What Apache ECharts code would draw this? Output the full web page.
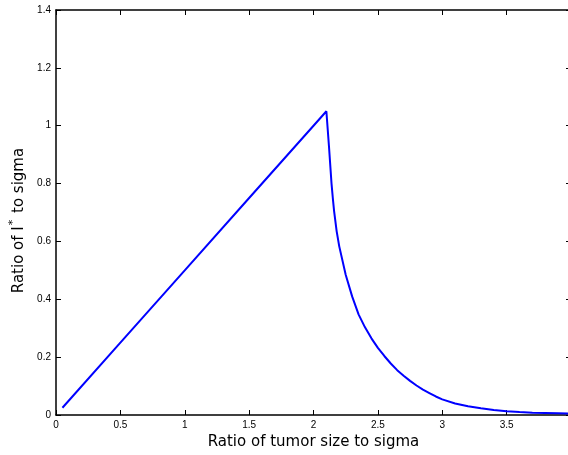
<!DOCTYPE html>
<html>
<head>
<meta charset="utf-8">
<script src="https://cdn.jsdelivr.net/npm/echarts@6/dist/echarts.min.js"></script>
<style>html,body{margin:0;padding:0;background:#fff}#c{width:568px;height:455px}</style>
</head>
<body>
<div id="c"></div>
<script>
var xValues = [0.05, 0.5, 1.0, 1.5, 2.0, 2.1, 2.12, 2.14, 2.15, 2.16, 2.18, 2.2, 2.25, 2.3, 2.35, 2.4, 2.45, 2.5, 2.55, 2.6, 2.65, 2.7, 2.75, 2.8, 2.85, 2.9, 2.95, 3.0, 3.1, 3.2, 3.3, 3.4, 3.5, 3.6, 3.7, 3.8, 3.9, 4.0];
var yValues = [0.025, 0.25, 0.5, 0.75, 1.0, 1.05, 0.93, 0.80, 0.75, 0.705, 0.635, 0.583, 0.485, 0.41, 0.348, 0.303, 0.265, 0.232, 0.204, 0.178, 0.155, 0.136, 0.118, 0.102, 0.088, 0.076, 0.064, 0.054, 0.040, 0.030, 0.023, 0.017, 0.013, 0.010, 0.008, 0.007, 0.006, 0.005];
var xTicks = [0, 0.5, 1, 1.5, 2, 2.5, 3, 3.5, 4];
var yTicks = [0, 0.2, 0.4, 0.6, 0.8, 1, 1.2, 1.4];
var xTitle = 'Ratio of tumor size to sigma';
var yTitle = 'Ratio of I{sup|*} to sigma';

var points = xValues.map(function (x, i) { return [x, yValues[i]]; });
var font = 'Liberation Sans, Arial, Helvetica, sans-serif';
var titleFont = 'DejaVu Sans, sans-serif';
function fmt(v) { return String(Math.round(v * 100) / 100); }

var chart = echarts.init(document.getElementById('c'), null, { renderer: 'canvas' });
chart.setOption({
  animation: false,
  backgroundColor: '#ffffff',
  grid: { left: 56, right: -3, top: 10, bottom: 40, containLabel: false, outerBoundsMode: 'none' },
  xAxis: [{
    type: 'value', min: xTicks[0], max: xTicks[xTicks.length - 1], interval: 0.5,
    position: 'bottom',
    name: xTitle, nameLocation: 'middle', nameGap: 18,
    nameTextStyle: { fontFamily: titleFont, fontSize: 15, color: '#000' },
    axisLine: { show: true, onZero: false, lineStyle: { color: '#000', width: 1.5 } },
    axisTick: { show: true, inside: true, length: 5, lineStyle: { color: '#000' } },
    axisLabel: { showMaxLabel: false, margin: 5, fontFamily: font, fontSize: 10, color: '#000', formatter: fmt },
    splitLine: { show: false }
  }, {
    type: 'value', min: xTicks[0], max: xTicks[xTicks.length - 1], interval: 0.5,
    position: 'top',
    axisLine: { show: true, onZero: false, lineStyle: { color: '#000', width: 1.5 } },
    axisTick: { show: true, inside: true, length: 5, lineStyle: { color: '#000' } },
    axisLabel: { show: false },
    splitLine: { show: false }
  }],
  yAxis: [{
    type: 'value', min: yTicks[0], max: yTicks[yTicks.length - 1], interval: 0.2,
    position: 'left',
    name: yTitle, nameLocation: 'middle', nameGap: 23, nameRotate: 90,
    nameTextStyle: {
      fontFamily: titleFont, fontSize: 15, color: '#000', padding: [0, 16, 0, 0],
      rich: { sup: { fontFamily: titleFont, fontSize: 11, color: '#000', padding: [0, 2, 12, 1] } }
    },
    axisLine: { show: true, onZero: false, lineStyle: { color: '#000', width: 1.5 } },
    axisTick: { show: true, inside: true, length: 5, lineStyle: { color: '#000' } },
    axisLabel: { margin: 5, fontFamily: font, fontSize: 10, color: '#000', formatter: fmt },
    splitLine: { show: false }
  }, {
    type: 'value', min: yTicks[0], max: yTicks[yTicks.length - 1], interval: 0.2,
    position: 'right',
    axisLine: { show: true, onZero: false, lineStyle: { color: '#000', width: 1.5 } },
    axisTick: { show: true, inside: true, length: 5, lineStyle: { color: '#000' } },
    axisLabel: { show: false },
    splitLine: { show: false }
  }],
  series: [{
    type: 'line', xAxisIndex: 0, yAxisIndex: 0,
    data: points, showSymbol: false, smooth: false,
    lineStyle: { color: '#0000ff', width: 2 },
    itemStyle: { color: '#0000ff' }
  }]
});
</script>
</body>
</html>
